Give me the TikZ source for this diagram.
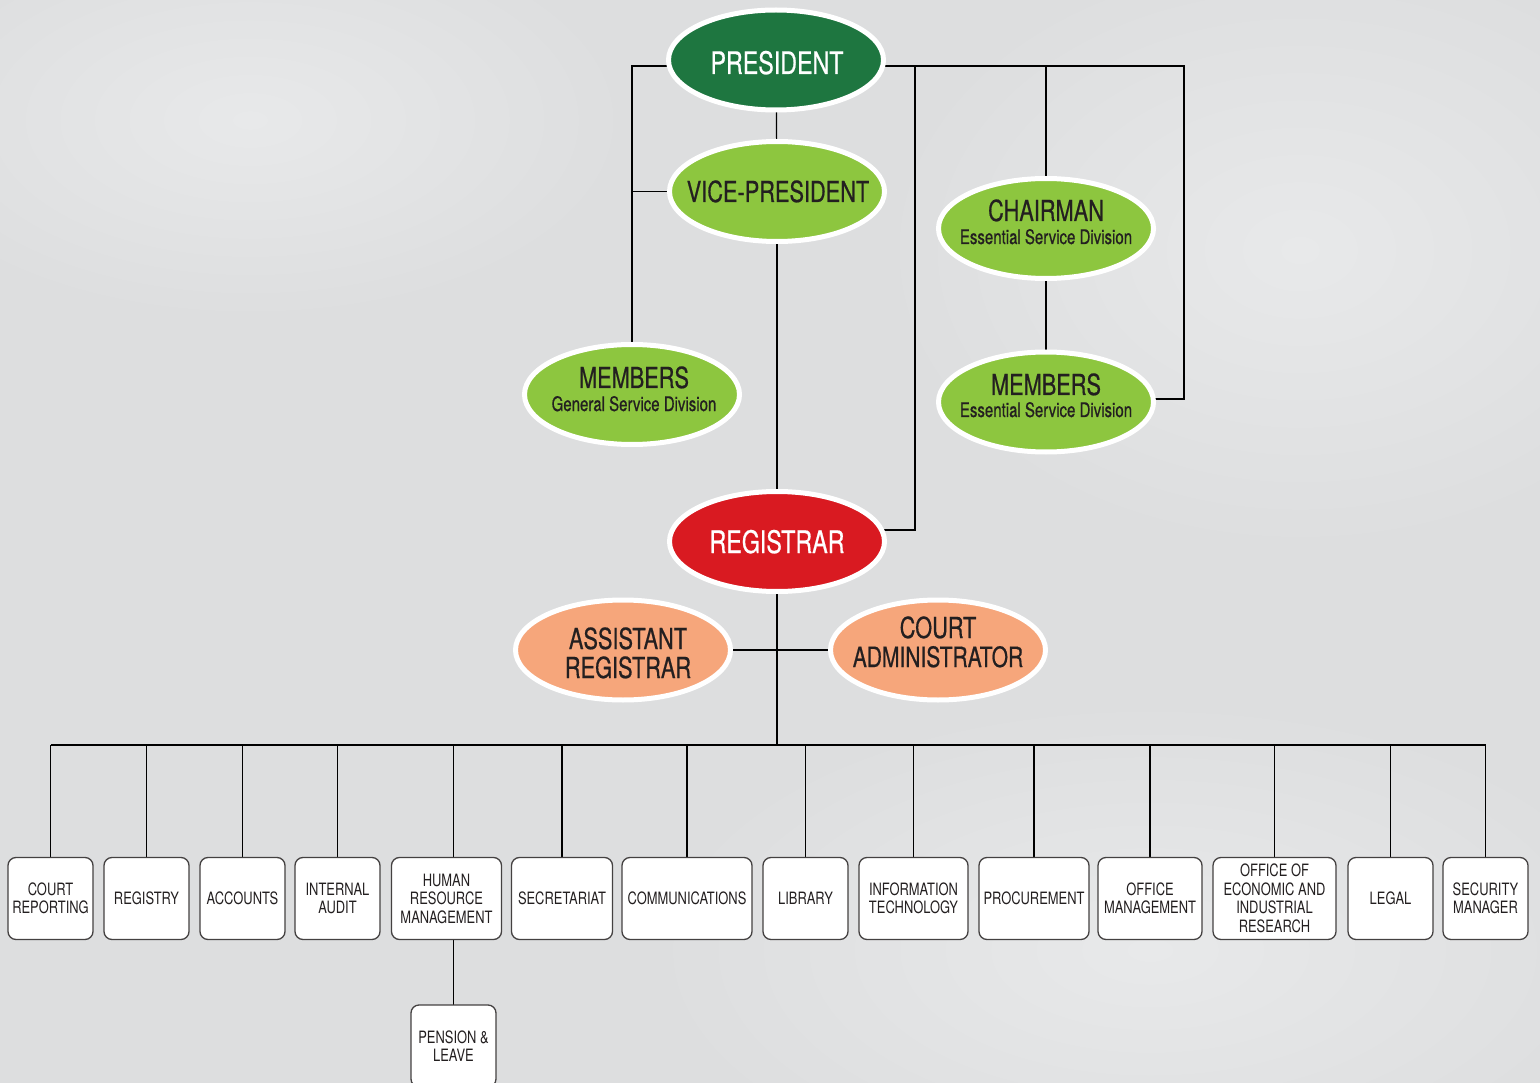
\documentclass[tikz,border=0pt]{standalone}
\usepackage{fontspec}
\setmainfont{TeX Gyre Heros}[FakeStretch=0.76]
\newfontfamily\ovalfont{TeX Gyre Heros}[FakeStretch=0.75, FakeBold=0.6]
\usetikzlibrary{shapes.geometric,calc}
\definecolor{bgc}{RGB}{221,222,223}
\definecolor{bglight}{RGB}{232,233,234}
\definecolor{dkgreen}{RGB}{30,118,64}
\definecolor{ltgreen}{RGB}{141,198,63}
\definecolor{regred}{RGB}{217,26,33}
\definecolor{salmon}{RGB}{246,166,123}
\definecolor{ink}{RGB}{35,31,32}
\pgfdeclarelayer{bottom}
\pgfdeclarelayer{wires}
\pgfsetlayers{bottom,wires,main}
\tikzset{
  oval/.style={ellipse, draw=white, line width=5pt, minimum width=215pt, minimum height=100pt, inner sep=0pt},
  dept/.style={draw=ink!85, line width=1.3pt, fill=white, rounded corners=8pt, minimum height=82pt, inner sep=0pt, align=center, font=\fontsize{17}{18.5}\selectfont, text=ink},
  wire/.style={draw=black, line width=1.2pt},
  bigtxt/.style={font=\ovalfont\fontsize{29}{30}\selectfont, text=ink, anchor=base, inner sep=0pt},
  toptxt/.style={font=\ovalfont\fontsize{31}{32}\selectfont, text=white, anchor=base, inner sep=0pt},
  subtxt/.style={font=\ovalfont\fontsize{20}{21}\selectfont, text=ink, anchor=base, inner sep=0pt}
}
\begin{document}
\begin{tikzpicture}[x=1pt,y=-1pt]
\useasboundingbox (0,0) rectangle (1540,1083);
\clip (0,0) rectangle (1540,1083);
\begin{pgfonlayer}{bottom}
  \fill[bgc] (0,0) rectangle (1540,1083);
  \shade[inner color=bglight, outer color=bgc] (1300,250) ellipse (420 and 300);
  \shade[inner color=bglight, outer color=bgc] (250,120) ellipse (380 and 200);
  \shade[inner color=bglight, outer color=bgc] (1150,950) ellipse (500 and 250);
\end{pgfonlayer}

% ellipses
\node[oval, fill=dkgreen] (pres) at (776,60) {};
\node[oval, fill=ltgreen] (vp) at (777,191.5) {};
\node[oval, fill=ltgreen] (chair) at (1046,228.5) {};
\node[oval, fill=ltgreen] (mesd) at (1046,402) {};
\node[oval, fill=ltgreen] (mgsd) at (632,394.5) {};
\node[oval, fill=regred] (reg) at (777,541.5) {};
\node[oval, fill=salmon] (areg) at (623,650) {};
\node[oval, fill=salmon] (cadm) at (938,650) {};

% ellipse texts
\node[toptxt] (tpres) at (777,74) {PRESIDENT};
\node[bigtxt] (tvp) at (778,202) {VICE-PRESIDENT};
\node[bigtxt] (tchairA) at (1046,221) {CHAIRMAN};
\node[subtxt] (tchairB) at (1046,244) {Essential Service Division};
\node[bigtxt] (tmgsdA) at (634,388) {MEMBERS};
\node[subtxt] (tmgsdB) at (634,411) {General Service Division};
\node[bigtxt] (tmesdA) at (1046,395) {MEMBERS};
\node[subtxt] (tmesdB) at (1046,417) {Essential Service Division};
\node[toptxt] (treg) at (777,553) {REGISTRAR};
\node[bigtxt] (taregA) at (628,649) {ASSISTANT};
\node[bigtxt] (taregB) at (628,678) {REGISTRAR};
\node[bigtxt] (tcadmA) at (938,638) {COURT};
\node[bigtxt, font=\ovalfont\fontsize{28}{30}\selectfont] (tcadmB) at (938,667) {ADMINISTRATOR};

% department boxes
\node[dept, minimum width=85pt]  (b1)  at (50.5,898.5)  {COURT\\REPORTING};
\node[dept, minimum width=85pt]  (b2)  at (146.5,898.5) {REGISTRY};
\node[dept, minimum width=85pt]  (b3)  at (242.5,898.5) {ACCOUNTS};
\node[dept, minimum width=85pt]  (b4)  at (337.5,898.5) {INTERNAL\\AUDIT};
\node[dept, minimum width=110pt] (b5)  at (446.5,898.5) {HUMAN\\RESOURCE\\MANAGEMENT};
\node[dept, minimum width=101pt] (b6)  at (562,898.5)   {SECRETARIAT};
\node[dept, minimum width=130pt] (b7)  at (687,898.5)   {COMMUNICATIONS};
\node[dept, minimum width=85pt]  (b8)  at (805.5,898.5) {LIBRARY};
\node[dept, minimum width=109pt] (b9)  at (913.5,898.5) {INFORMATION\\TECHNOLOGY};
\node[dept, minimum width=110pt] (b10) at (1034,898.5)  {PROCUREMENT};
\node[dept, minimum width=104pt] (b11) at (1150,898.5)  {OFFICE\\MANAGEMENT};
\node[dept, minimum width=123pt] (b12) at (1274.5,898.5) {OFFICE OF\\ECONOMIC AND\\INDUSTRIAL\\RESEARCH};
\node[dept, minimum width=85pt]  (b13) at (1390.5,898.5) {LEGAL};
\node[dept, minimum width=85pt]  (b14) at (1485.5,898.5) {SECURITY\\MANAGER};
\node[dept, minimum width=85pt]  (pen) at (453.5,1046)  {PENSION \&\\LEAVE};

% connector helper points
\coordinate (ptop) at (776,66);
\coordinate (rcorner) at (1184,399);
\coordinate (regcorner) at (915,530);
\coordinate (bus) at (777,745);

\begin{pgfonlayer}{wires}
  \draw[wire] (ptop) -| (mgsd.center);
  \draw[wire] (vp.center) -- (vp.center -| mgsd.center);
  \draw[wire] (pres.center) -- (vp.center);
  \draw[wire] (vp.center) -- (reg.center);
  \draw[wire] (ptop) -| (rcorner) -- (rcorner -| mesd.center);
  \draw[wire] (chair.center |- ptop) -- (chair.center);
  \draw[wire] (chair.center) -- (mesd.center);
  \draw[wire] (ptop) -| (regcorner) -- (regcorner -| reg.center);
  \draw[wire] (reg.center) -- (bus);
  \draw[wire] (areg.center) -- (cadm.center);
  \draw[wire] (b1.center |- bus) -- (b14.center |- bus);
  \foreach \b in {b1,b2,b3,b4,b6,b7,b8,b9,b10,b11,b12,b13,b14}
    \draw[wire] (\b.center |- bus) -- (\b.center);
  \draw[wire] (pen.center |- bus) -- (pen.center);
\end{pgfonlayer}
\end{tikzpicture}
\end{document}
